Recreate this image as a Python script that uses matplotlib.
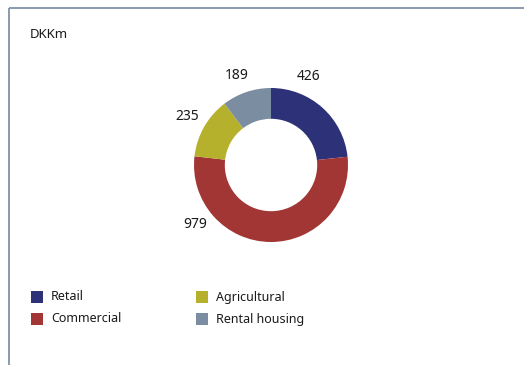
import numpy as np
import matplotlib.pyplot as plt
from matplotlib.patches import Rectangle

plt.rcParams['font.family'] = ['Noto Sans', 'DejaVu Sans']

categories = ['Retail', 'Commercial', 'Agricultural', 'Rental housing']
values = [426, 979, 235, 189]
colors = ['#2d3278', '#a13634', '#b6b12d', '#7b8da1']
unit = 'DKKm'

# label angles, degrees clockwise from 12 o'clock
label_angles = [23, 232, 300, 339]

W, H = 524, 365
fig = plt.figure(figsize=(W / 100, H / 100), dpi=100)

# overlay in pixel coordinates for frame, unit and legend
ov = fig.add_axes([0, 0, 1, 1])
ov.set_xlim(0, W)
ov.set_ylim(H, 0)
ov.axis('off')

frame_color = '#8193a8'
ov.plot([9, W], [8, 8], color=frame_color, lw=1.3, solid_capstyle='butt')
ov.plot([9, 9], [8, H], color=frame_color, lw=1.3, solid_capstyle='butt')
ov.text(30, 34, unit, fontsize=9.5, color='#1a1a1a', va='center', ha='left')

# legend, two columns
leg_x = [31, 196]
leg_y = [297, 319]
for i, (name, c) in enumerate(zip(categories, colors)):
  col = 0 if i in (0, 1) else 1
  row = i % 2
  x, y = leg_x[col], leg_y[row]
  ov.add_patch(Rectangle((x, y - 6), 12, 12, color=c, lw=0))
  ov.text(x + 20, y, name, fontsize=9, color='#1a1a1a', va='center', ha='left')

# donut
cx, cy, r = 271, 165, 77
ax = fig.add_axes([(cx - r) / W, (H - cy - r) / H, 2 * r / W, 2 * r / H])
ax.pie(values, colors=colors, startangle=90, counterclock=False, radius=1,
       wedgeprops=dict(width=0.4, edgecolor='none'))
ax.set_xlim(-1, 1)
ax.set_ylim(-1, 1)
ax.set_aspect('equal')
ax.axis('off')

for v, a in zip(values, label_angles):
  t = np.deg2rad(a)
  ax.text(1.25 * np.sin(t), 1.25 * np.cos(t), f'{v}', fontsize=10,
          color='#1a1a1a', ha='center', va='center')

fig.savefig('out.png', dpi=100)
